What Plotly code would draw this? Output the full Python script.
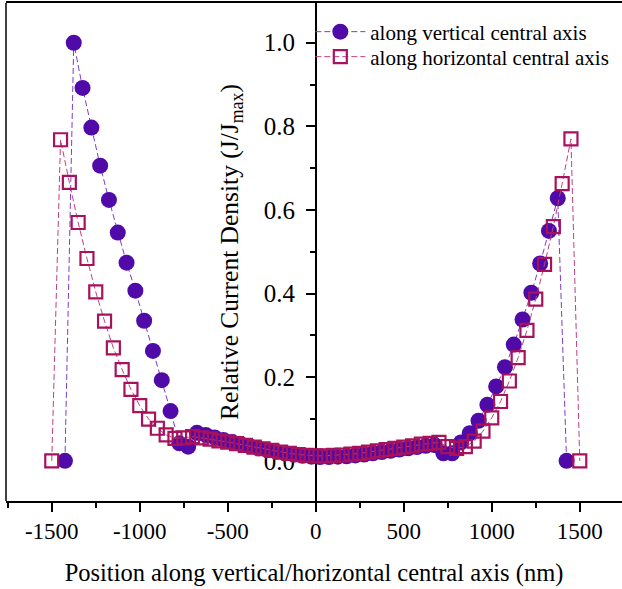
import plotly.graph_objects as go

# ---- data ----
x_vertical = [-1425, -1375, -1325, -1275, -1225, -1175, -1125, -1075, -1025, -975,
              -925, -875, -825, -775, -725, -675, -625, -575, -525, -475,
              -425, -375, -325, -275, -225, -175, -125, -75, -25, 25,
              75, 125, 175, 225, 275, 325, 375, 425, 475, 525,
              575, 625, 675, 725, 775, 825, 875, 925, 975, 1025,
              1075, 1125, 1175, 1225, 1275, 1325, 1375, 1425]
y_vertical = [0.0, 1.0, 0.892, 0.797, 0.706, 0.624, 0.546, 0.474, 0.407, 0.335,
              0.263, 0.193, 0.119, 0.042, 0.034, 0.067, 0.062, 0.056, 0.050, 0.045,
              0.040, 0.035, 0.030, 0.026, 0.022, 0.018, 0.015, 0.012, 0.010, 0.009,
              0.009, 0.010, 0.011, 0.013, 0.015, 0.018, 0.021, 0.024, 0.027, 0.030,
              0.033, 0.036, 0.038, 0.018, 0.018, 0.044, 0.066, 0.096, 0.134, 0.178,
              0.224, 0.278, 0.338, 0.402, 0.472, 0.550, 0.628, 0.0]

x_horizontal = [-1500, -1450, -1400, -1350, -1300, -1250, -1200, -1150, -1100, -1050,
                -1000, -950, -900, -850, -800, -750, -700, -650, -600, -550,
                -500, -450, -400, -350, -300, -250, -200, -150, -100, -50,
                0, 50, 100, 150, 200, 250, 300, 350, 400, 450,
                500, 550, 600, 650, 700, 750, 800, 850, 900, 950,
                1000, 1050, 1100, 1150, 1200, 1250, 1300, 1350, 1400, 1450, 1500]
y_horizontal = [0.0, 0.768, 0.666, 0.570, 0.484, 0.404, 0.334, 0.270, 0.218, 0.171,
                0.132, 0.100, 0.078, 0.062, 0.054, 0.055, 0.058, 0.055, 0.052, 0.048,
                0.045, 0.041, 0.037, 0.033, 0.029, 0.025, 0.021, 0.018, 0.015, 0.013,
                0.012, 0.012, 0.013, 0.014, 0.016, 0.018, 0.021, 0.024, 0.027, 0.030,
                0.033, 0.036, 0.040, 0.042, 0.044, 0.034, 0.030, 0.034, 0.047, 0.071,
                0.103, 0.142, 0.191, 0.247, 0.312, 0.387, 0.470, 0.560, 0.663, 0.770, 0.0]

x_ticks = [-1500, -1000, -500, 0, 500, 1000, 1500]
y_ticks = [0.0, 0.2, 0.4, 0.6, 0.8, 1.0]

FONT = "Liberation Serif, Times New Roman, serif"
PURPLE = "#4F0AA8"
CRIMSON = "#A8125C"

fig = go.Figure()
fig.add_trace(go.Scatter(
    x=x_vertical, y=y_vertical, mode="lines+markers",
    name="along vertical central axis", legend="legend",
    line=dict(color="#7A3CD0", width=1, dash="6px,3px"),
    marker=dict(symbol="circle", size=16, color=PURPLE, line=dict(width=0)),
))
fig.add_trace(go.Scatter(
    x=x_horizontal, y=y_horizontal, mode="lines+markers",
    name="along horizontal central axis", legend="legend2",
    line=dict(color="#C0407F", width=1, dash="6px,3px"),
    marker=dict(symbol="square-open", size=13, color=CRIMSON, line=dict(width=2.2, color=CRIMSON)),
))

leg_common = dict(xanchor="left", yanchor="middle", bgcolor="rgba(0,0,0,0)",
                  font=dict(size=21, family=FONT), itemwidth=50)

fig.update_layout(
    width=622, height=589,
    margin=dict(l=6, r=0, t=3, b=88, autoexpand=False),
    paper_bgcolor="white", plot_bgcolor="white",
    font=dict(family=FONT, size=24, color="black"),
    showlegend=True,
    legend=dict(x=0.494, y=1 - (32 - 3) / 498, **leg_common),
    legend2=dict(x=0.494, y=1 - (57 - 3) / 498, **leg_common),
    xaxis=dict(
        range=[-1760, 1740], tickvals=x_ticks, ticktext=[str(v) for v in x_ticks],
        showgrid=False, zeroline=False, automargin=False,
        showline=True, linecolor="black", linewidth=1.5, mirror=True,
        ticks="outside", ticklen=9, tickwidth=1.5, tickcolor="black",
        minor=dict(dtick=250, tick0=0, ticks="outside", ticklen=5, tickwidth=1.5, tickcolor="black"),
        tickfont=dict(size=23, family=FONT),
        title=dict(text="Position along vertical/horizontal central axis (nm)",
                   font=dict(size=24.5, family=FONT), standoff=21),
    ),
    yaxis=dict(
        range=[-0.096, 1.095], tickvals=y_ticks, ticktext=["%.1f" % v for v in y_ticks],
        anchor="free", position=1760 / 3500, side="left", automargin=False,
        showgrid=False, zeroline=False, layer="below traces",
        showline=True, linecolor="black", linewidth=1.5,
        ticks="outside", ticklen=9, tickwidth=1.5, tickcolor="black",
        minor=dict(dtick=0.1, tick0=0, ticks="outside", ticklen=5, tickwidth=1.5, tickcolor="black"),
        tickfont=dict(size=25, family=FONT), ticklabelstandoff=6,
        title=dict(text="Relative Current Density (J/J<sub>max</sub>)",
                   font=dict(size=25.5, family=FONT), standoff=17),
    ),
    shapes=[dict(type="line", xref="paper", yref="paper", x0=0, x1=0, y0=0, y1=1,
                 line=dict(color="black", width=1.5))],
)

fig.write_html("out.html", config={"displayModeBar": False},
               post_script="document.body.style.margin='0px';")
